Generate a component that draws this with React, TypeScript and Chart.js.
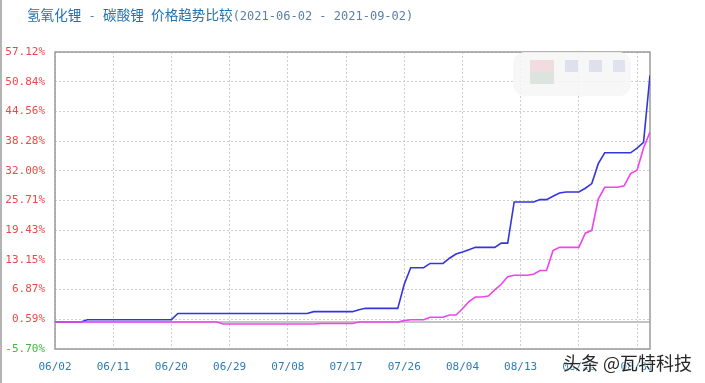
import React, { useEffect, useRef } from "react";
import { Chart, registerables } from "chart.js";

Chart.register(...registerables);

// ---- data ----
const titleParts = ["氢氧化锂", " - ", "碳酸锂", " ", "价格趋势比较", "(2021-06-02 - 2021-09-02)"];
const watermark = "头条 @瓦特科技";

const xTickDays = [0, 9, 18, 27, 36, 45, 54, 63, 72, 81, 90];
const xTickLabels = ["06/02", "06/11", "06/20", "06/29", "07/08", "07/17", "07/26", "08/04", "08/13", "08/22", "08/31"];
const yTicks = [-5.7, 0.59, 6.87, 13.15, 19.43, 25.71, 32.0, 38.28, 44.56, 50.84, 57.12];

// daily values, 2021-06-02 .. 2021-09-02 (93 days), % change
const hydroxide = [
  0, 0, 0, 0, 0, 0.5, 0.5, 0.5, 0.5, 0.5,
  0.5, 0.5, 0.5, 0.5, 0.5, 0.5, 0.5, 0.5, 0.5, 1.8,
  1.8, 1.8, 1.8, 1.8, 1.8, 1.8, 1.8, 1.8, 1.8, 1.8,
  1.8, 1.8, 1.8, 1.8, 1.8, 1.8, 1.8, 1.8, 1.8, 1.8,
  2.2, 2.2, 2.2, 2.2, 2.2, 2.2, 2.2, 2.6, 2.9, 2.9,
  2.9, 2.9, 2.9, 2.9, 8.0, 11.5, 11.5, 11.5, 12.4, 12.4,
  12.4, 13.5, 14.4, 14.8, 15.3, 15.8, 15.8, 15.8, 15.8, 16.7,
  16.7, 25.4, 25.4, 25.4, 25.4, 25.9, 25.9, 26.6, 27.3, 27.5,
  27.5, 27.5, 28.3, 29.3, 33.5, 35.8, 35.8, 35.8, 35.8, 35.8,
  36.8, 38.0, 52.2,
];
const carbonate = [
  0, 0, 0, 0, 0, 0, 0, 0, 0, 0,
  0, 0, 0, 0, 0, 0, 0, 0, 0, 0,
  0, 0, 0, 0, 0, 0, -0.4, -0.4, -0.4, -0.4,
  -0.4, -0.4, -0.4, -0.4, -0.4, -0.4, -0.4, -0.4, -0.4, -0.4,
  -0.4, -0.3, -0.3, -0.3, -0.3, -0.3, -0.3, 0, 0, 0,
  0, 0, 0, 0, 0.3, 0.5, 0.5, 0.5, 1.0, 1.0,
  1.0, 1.5, 1.5, 2.8, 4.3, 5.3, 5.3, 5.5, 6.8, 8.0,
  9.6, 9.9, 9.9, 9.9, 10.1, 10.9, 10.9, 15.1, 15.8, 15.8,
  15.8, 15.8, 18.8, 19.4, 26.0, 28.5, 28.5, 28.5, 28.8, 31.4,
  32.1, 36.8, 40.2,
];

const MONO = '"DejaVu Sans Mono", "Liberation Mono", monospace';
const CJK = '"Noto Sans CJK SC", "Noto Sans", sans-serif';

const framePlugin = {
  id: "frame",
  beforeDatasetsDraw(chart: any) {
    const { ctx, chartArea } = chart;
    const y0 = chart.scales.y.getPixelForValue(0);
    ctx.save();
    ctx.strokeStyle = "#c4c4c4";
    ctx.lineWidth = 2;
    ctx.beginPath();
    ctx.moveTo(chartArea.left, y0);
    ctx.lineTo(chartArea.right, y0);
    ctx.stroke();
    ctx.strokeStyle = "#9a9a9a";
    ctx.lineWidth = 1.5;
    ctx.strokeRect(chartArea.left, chartArea.top, chartArea.right - chartArea.left, chartArea.bottom - chartArea.top);
    ctx.restore();
  },
};

export default function App() {
  const ref = useRef<HTMLCanvasElement | null>(null);

  useEffect(() => {
    document.body.style.margin = "0";
    const canvas = ref.current;
    if (!canvas) return;
    const chart = new Chart(canvas, {
      type: "line",
      data: {
        datasets: [
          {
            label: "碳酸锂",
            data: carbonate.map((v, i) => ({ x: i, y: v })),
            borderColor: "#ee44ee",
            borderWidth: 1.6,
            pointRadius: 0,
            tension: 0,
            order: 0,
          },
          {
            label: "氢氧化锂",
            data: hydroxide.map((v, i) => ({ x: i, y: v })),
            borderColor: "#3535dd",
            borderWidth: 1.6,
            pointRadius: 0,
            tension: 0,
            order: 1,
          },
        ],
      },
      options: {
        responsive: false,
        animation: false,
        layout: { padding: { left: 0, top: 52, right: 55, bottom: 0 } },
        plugins: { legend: { display: false }, tooltip: { enabled: false }, title: { display: false } },
        scales: {
          x: {
            type: "linear",
            min: 0,
            max: 92,
            afterBuildTicks: (scale: any) => {
              scale.ticks = xTickDays.map((v) => ({ value: v }));
            },
            afterFit: (scale: any) => {
              scale.height = 34;
            },
            ticks: {
              autoSkip: false,
              maxRotation: 0,
              padding: 12,
              color: "#2a7db3",
              font: { family: MONO, size: 11 },
              callback: (v: any) => xTickLabels[xTickDays.indexOf(v)] ?? "",
            },
            grid: { color: "#cfcfcf", lineWidth: 1, drawTicks: false },
            border: { display: false, dash: [2, 2] },
          },
          y: {
            type: "linear",
            min: -5.7,
            max: 57.12,
            afterBuildTicks: (scale: any) => {
              scale.ticks = yTicks.map((v) => ({ value: v }));
            },
            afterFit: (scale: any) => {
              scale.width = 55;
            },
            ticks: {
              padding: 10,
              color: (c: any) => (c.tick && c.tick.value < 0 ? "#3cb83c" : "#f04848"),
              font: { family: MONO, size: 11 },
              callback: (v: any) => Number(v).toFixed(2) + "%",
            },
            grid: { color: "#cfcfcf", lineWidth: 1, drawTicks: false },
            border: { display: false, dash: [2, 2] },
          },
        },
      },
      plugins: [framePlugin],
    });
    return () => chart.destroy();
  }, []);

  const cjkStyle: React.CSSProperties = { fontFamily: CJK, fontSize: "13.6px", color: "#2270ad" };
  const monoStyle: React.CSSProperties = { fontFamily: MONO, fontSize: "12px", color: "#5a7fa8" };

  return (
    <div style={{ position: "relative", width: 705, height: 383, background: "#fff", overflow: "hidden" }}>
      <canvas ref={ref} width={705} height={383} style={{ display: "block", position: "absolute", left: 0, top: 0 }} />
      <div style={{ position: "absolute", left: 0, top: 0, width: 2, height: 383, background: "#b4b4b4" }} />
      <div style={{ position: "absolute", left: 27, top: 4, whiteSpace: "pre", lineHeight: "20px" }}>
        <span style={cjkStyle}>{titleParts[0]}</span>
        <span style={monoStyle}>{titleParts[1]}</span>
        <span style={cjkStyle}>{titleParts[2]}</span>
        <span style={monoStyle}>{titleParts[3]}</span>
        <span style={cjkStyle}>{titleParts[4]}</span>
        <span style={monoStyle}>{titleParts[5]}</span>
      </div>
      <div
        style={{
          position: "absolute",
          left: 513,
          top: 52,
          width: 118,
          height: 44,
          borderRadius: 12,
          background: "rgba(246,246,246,0.85)",
        }}
      >
        <div style={{ position: "absolute", left: 17, top: 8, width: 24, height: 12, background: "#f1dde0" }} />
        <div style={{ position: "absolute", left: 17, top: 20, width: 24, height: 12, background: "#dde3df" }} />
        <div style={{ position: "absolute", left: 52, top: 8, width: 13, height: 12, background: "#e0e0ec" }} />
        <div style={{ position: "absolute", left: 76, top: 8, width: 13, height: 12, background: "#e0e0ec" }} />
        <div style={{ position: "absolute", left: 100, top: 8, width: 12, height: 12, background: "#e2e2ee" }} />
      </div>
      <div
        style={{
          position: "absolute",
          left: 563,
          top: 350,
          fontFamily: CJK,
          fontSize: "18px",
          lineHeight: "24px",
          color: "#262626",
          whiteSpace: "pre",
          textShadow: "0 0 2px #fff, 0 0 2px #fff",
        }}
      >
        {watermark}
      </div>
    </div>
  );
}
